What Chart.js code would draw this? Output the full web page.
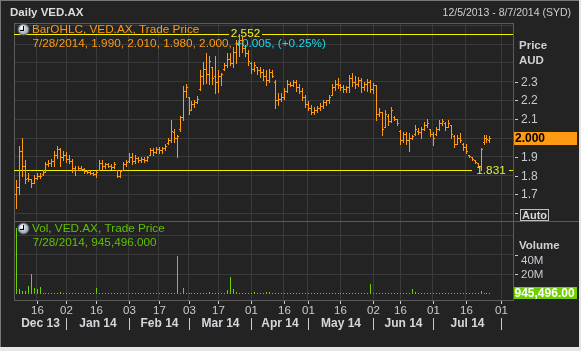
<!DOCTYPE html>
<html><head><meta charset="utf-8">
<script src="https://cdn.jsdelivr.net/npm/chart.js@4"></script>
<style>html,body{margin:0;padding:0;background:#232323;overflow:hidden}canvas{display:block}</style>
</head><body>
<canvas id="c" width="581" height="351"></canvas>
<script>
// ---- trading days (categories) ----
const dec13 = [5,6,9,10,11,12,13,16,17,18,19,20,23,24,27,30,31];
const jan14 = [2,3,6,7,8,9,10,13,14,15,16,17,20,21,22,23,24,28,29,30,31];
const feb14 = [3,4,5,6,7,10,11,12,13,14,17,18,19,20,21,24,25,26,27,28];
const mar14 = [3,4,5,6,7,10,11,12,13,14,17,18,19,20,21,24,25,26,27,28,31];
const apr14 = [1,2,3,4,7,8,9,10,11,14,15,16,17,22,23,24,28,29,30];
const may14 = [1,2,5,6,7,8,9,12,13,14,15,16,19,20,21,22,23,26,27,28,29,30];
const jun14 = [2,3,4,5,6,10,11,12,13,16,17,18,19,20,23,24,25,26,27,30];
const jul14 = [1,2,3,4,7,8,9,10,11,14,15,16,17,18,21,22,23,24,25,28,29,30,31];
const aug14 = [1,4,5,6,7];

// ---- OHLC series (AUD) ----
const opens = [1.70,1.74,1.93,1.85,1.79,1.78,1.76,1.79,1.80,1.81,1.82,1.86,1.87,1.88,1.91,1.94,1.90,1.91,1.89,1.88,
1.84,1.83,1.84,1.835,1.825,1.82,1.815,1.81,1.83,1.87,1.85,1.86,1.85,1.845,1.83,1.80,1.83,1.86,1.88,1.90,
1.88,1.895,1.885,1.89,1.885,1.91,1.935,1.925,1.94,1.935,1.945,1.975,1.99,2.03,2.00,2.05,2.11,2.25,2.22,2.15,
2.18,2.19,2.26,2.33,2.37,2.34,2.38,2.33,2.30,2.33,2.37,2.39,2.42,2.40,2.46,2.50,2.52,2.48,2.45,2.40,
2.37,2.38,2.36,2.35,2.33,2.31,2.35,2.30,2.20,2.21,2.22,2.25,2.29,2.28,2.30,2.27,2.25,2.22,2.18,2.16,
2.14,2.15,2.16,2.17,2.19,2.20,2.23,2.27,2.29,2.28,2.27,2.26,2.27,2.32,2.30,2.29,2.31,2.27,2.29,2.30,
2.26,2.28,2.13,2.14,2.06,2.12,2.09,2.11,2.10,2.04,1.99,2.02,1.99,2.00,2.02,2.04,2.03,2.05,2.07,2.05,
2.02,2.02,2.05,2.08,2.08,2.06,2.07,2.01,1.97,2.00,1.97,1.95,1.91,1.90,1.885,1.865,1.85,1.98,2.00,1.99];
const highs = [1.775,1.96,2.00,1.885,1.815,1.785,1.805,1.815,1.815,1.83,1.875,1.885,1.89,1.93,1.96,1.945,1.93,1.925,1.91,1.89,
1.85,1.85,1.85,1.84,1.83,1.83,1.82,1.825,1.885,1.885,1.87,1.865,1.86,1.875,1.83,1.83,1.875,1.885,1.92,1.92,
1.91,1.90,1.90,1.90,1.905,1.945,1.945,1.955,1.95,1.955,1.97,2.00,2.095,2.05,2.015,2.12,2.275,2.29,2.22,2.195,
2.20,2.225,2.36,2.405,2.45,2.435,2.38,2.435,2.36,2.345,2.40,2.45,2.45,2.485,2.52,2.552,2.54,2.495,2.47,2.405,
2.405,2.38,2.38,2.37,2.36,2.37,2.36,2.31,2.24,2.24,2.265,2.31,2.30,2.31,2.31,2.29,2.265,2.23,2.195,2.175,
2.165,2.17,2.185,2.205,2.205,2.23,2.29,2.31,2.32,2.29,2.285,2.275,2.335,2.345,2.33,2.325,2.32,2.30,2.315,2.31,
2.295,2.285,2.16,2.14,2.15,2.13,2.165,2.12,2.10,2.045,2.035,2.035,2.025,2.015,2.07,2.055,2.06,2.085,2.10,2.05,
2.035,2.06,2.095,2.10,2.085,2.095,2.07,2.015,2.015,2.025,1.975,1.97,1.91,1.90,1.885,1.865,1.945,2.015,2.015,2.01];
const lows = [1.63,1.70,1.80,1.76,1.77,1.74,1.76,1.785,1.79,1.805,1.82,1.85,1.85,1.85,1.895,1.85,1.885,1.875,1.865,1.82,
1.805,1.83,1.83,1.815,1.815,1.81,1.805,1.795,1.83,1.835,1.84,1.845,1.835,1.84,1.795,1.795,1.83,1.85,1.875,1.86,
1.865,1.875,1.875,1.875,1.88,1.91,1.91,1.92,1.92,1.92,1.935,1.97,1.98,1.98,1.90,2.04,2.095,2.22,2.13,2.15,
2.165,2.185,2.255,2.29,2.295,2.29,2.29,2.24,2.245,2.285,2.36,2.38,2.39,2.38,2.40,2.435,2.46,2.435,2.39,2.345,
2.355,2.34,2.325,2.31,2.285,2.30,2.325,2.16,2.175,2.195,2.21,2.245,2.275,2.275,2.25,2.24,2.20,2.165,2.15,2.13,
2.13,2.14,2.15,2.16,2.175,2.185,2.23,2.255,2.265,2.255,2.245,2.245,2.245,2.275,2.265,2.275,2.245,2.255,2.25,2.245,
2.24,2.095,2.115,2.015,2.06,2.07,2.085,2.095,2.07,1.97,1.98,1.97,1.93,1.995,2.015,2.02,2.00,2.045,2.06,2.01,
1.965,2.015,2.045,2.07,2.045,2.06,2.00,1.955,1.97,1.98,1.935,1.92,1.90,1.885,1.87,1.845,1.831,1.97,1.98,1.98];
const closes = [1.74,1.93,1.85,1.78,1.78,1.76,1.79,1.80,1.80,1.82,1.86,1.87,1.88,1.91,1.94,1.90,1.91,1.89,1.88,1.84,
1.83,1.84,1.835,1.825,1.82,1.815,1.81,1.82,1.87,1.85,1.86,1.85,1.845,1.86,1.80,1.825,1.86,1.875,1.90,1.88,
1.895,1.885,1.89,1.885,1.90,1.935,1.925,1.94,1.935,1.945,1.96,1.99,2.04,2.00,2.01,2.11,2.25,2.27,2.15,2.18,
2.19,2.21,2.33,2.37,2.34,2.41,2.32,2.30,2.33,2.34,2.39,2.42,2.40,2.46,2.50,2.52,2.48,2.45,2.41,2.37,
2.39,2.36,2.35,2.33,2.31,2.35,2.33,2.20,2.21,2.22,2.25,2.29,2.28,2.30,2.27,2.25,2.22,2.18,2.16,2.14,
2.15,2.16,2.17,2.19,2.20,2.22,2.27,2.29,2.28,2.27,2.26,2.27,2.32,2.30,2.29,2.31,2.27,2.29,2.30,2.26,
2.28,2.13,2.14,2.05,2.13,2.09,2.15,2.10,2.08,1.99,2.02,1.99,2.00,2.01,2.05,2.03,2.05,2.07,2.08,2.02,
2.00,2.05,2.08,2.09,2.06,2.08,2.02,1.97,2.00,1.99,1.95,1.93,1.905,1.89,1.875,1.85,1.94,2.00,1.995,2.00];
// ---- volume (millions) ----
const volumes = [67,5.4,3.4,2.7,8.2,20.4,6,4.8,7.1,1.4,0.3,0.2,0.2,1.2,0.3,2,0.3,1.2,0.3,1.2,
0.3,1.0,0.3,1.0,0.2,0.2,1.0,6,1.2,0.3,1.0,1.0,0.3,0.3,0.2,0.2,1.0,0.3,1.0,1.0,
1.0,0.2,0.2,0.3,0.3,1.0,0.2,0.2,0.2,0.3,1.0,0.3,1.0,0.5,39,1.0,6,1.0,0.3,0.3,
0.2,1.2,1.5,1.5,1.5,2.5,1.2,1.0,1.0,1.0,1.2,4.0,17,4.8,2.0,1.5,1.5,1.5,1.0,1.0,
2.0,1.0,1.2,1.0,2.5,2.5,1.5,1.2,0.5,0.5,0.5,0.3,0.3,0.5,0.2,0.5,0.3,0.3,0.3,0.3,
0.5,0.3,0.3,0.3,0.3,1.0,1.2,1.2,1.0,0.5,0.5,0.8,0.6,0.5,0.8,0.5,0.6,0.5,1.0,10,
1.0,0.5,0.5,1.0,1.5,0.5,1.5,0.5,0.5,0.5,0.5,1.0,1.5,4.8,2.0,0.5,0.5,0.5,0.5,0.3,
0.3,0.3,0.3,0.5,1.0,0.5,0.5,0.5,0.5,0.5,0.5,0.5,0.5,0.5,0.5,1.0,3.0,1.0,0.5,0.945];

// ---- axis labels ----
const dayTickDates = ['2013-12-16','2014-01-02','2014-01-16','2014-02-03','2014-02-17','2014-03-03','2014-03-17','2014-04-01',
  '2014-04-16','2014-05-01','2014-05-16','2014-06-02','2014-06-16','2014-07-01','2014-07-16','2014-08-01'];
const dayTickLabels = ['16','02','16','03','17','03','17','01','16','01','16','02','16','01','16','01'];
const monthLabels = ['Dec 13','Jan 14','Feb 14','Mar 14','Apr 14','May 14','Jun 14','Jul 14'];
const priceTicks = [1.6,1.7,1.8,1.9,2.0,2.1,2.2,2.3,2.4,2.5,2.6];
const priceLabels = ['1.7','1.8','1.9','2.1','2.2','2.3'];
const volTicks = [20,40,60];

const months = [['2013-12',dec13],['2014-01',jan14],['2014-02',feb14],['2014-03',mar14],['2014-04',apr14],
  ['2014-05',may14],['2014-06',jun14],['2014-07',jul14],['2014-08',aug14]];
const dates = [];
const monthStartIdx = [];
months.forEach(([m,ds])=>{ monthStartIdx.push(dates.length); ds.forEach(d=>dates.push(m+'-'+String(d).padStart(2,'0'))); });
const dayTickIdx = dayTickDates.map(d=>dates.indexOf(d));

const ORANGE = '#ff9a12', GREEN = '#6fd000', AXIS = '#c8ccd0', GRID = '#3a3a3a', FRAME = '#5c5c5c';
const FONT = '"Liberation Sans", Arial, sans-serif';

function clock(ctx, cx, cy){
  const g = ctx.createRadialGradient(cx-1.5, cy-2, 0.5, cx, cy, 6);
  g.addColorStop(0,'#ffffff'); g.addColorStop(1,'#8392a2');
  ctx.beginPath(); ctx.arc(cx, cy, 5.5, 0, Math.PI*2); ctx.fillStyle = g; ctx.fill();
  ctx.lineWidth = 1; ctx.strokeStyle = '#56606a'; ctx.stroke();
  ctx.fillStyle = '#000';
  ctx.fillRect(Math.round(cx)-1, Math.round(cy)-4, 1, 5);
  ctx.fillRect(Math.round(cx)-4, Math.round(cy), 4, 1);
}

const drawPlugin = {
  id: 'eikon',
  beforeDraw(chart){
    const ctx = chart.ctx;
    ctx.save();
    ctx.fillStyle = '#232323'; ctx.fillRect(0,0,581,351);
    ctx.restore();
  },
  afterDraw(chart){
    const ctx = chart.ctx, xs = chart.scales.x, ys = chart.scales.y, vs = chart.scales.y2;
    const a = chart.chartArea;
    const L = Math.round(a.left), R = Math.round(a.right), T = Math.round(a.top), B = Math.round(a.bottom);
    const sepY = 221;
    ctx.save();
    // panel frames
    ctx.fillStyle = FRAME;
    ctx.fillRect(L, T, R-L, 1);
    ctx.fillRect(L, T, 1, B-T);
    ctx.fillRect(R, T, 1, B-T+1);
    ctx.fillRect(L, B, R-L, 1);
    ctx.fillRect(L, sepY, 579-L, 1);
    // volume bars
    ctx.fillStyle = GREEN;
    const v0 = Math.round(vs.getPixelForValue(0));
    volumes.forEach((v,i)=>{
      const x = Math.round(xs.getPixelForValue(i));
      const yv = Math.round(vs.getPixelForValue(v));
      const h = Math.max(1, v0 - yv);
      ctx.fillRect(x, v0-h, 1, h);
    });
    // high / low markers
    const yHi = Math.round(ys.getPixelForValue(2.552));
    const yLo = Math.round(ys.getPixelForValue(1.831));
    ctx.fillStyle = '#f4f000';
    ctx.fillRect(L, yHi, 229-L, 1); ctx.fillRect(262, yHi, R-262, 1);
    ctx.fillRect(L, yLo, 472-L, 1); ctx.fillRect(509, yLo, R-509, 1);
    // OHLC bars
    ctx.fillStyle = ORANGE;
    highs.forEach((h,i)=>{
      const x = Math.round(xs.getPixelForValue(i));
      const yH = Math.round(ys.getPixelForValue(h));
      const yL = Math.round(ys.getPixelForValue(lows[i]));
      ctx.fillRect(x, yH, 1, Math.max(1, yL-yH+1));
      ctx.fillRect(x-1, Math.round(ys.getPixelForValue(opens[i])), 1, 1);
      ctx.fillRect(x+1, Math.round(ys.getPixelForValue(closes[i])), 1, 1);
    });
    // marker labels
    ctx.textBaseline = 'middle';
    ctx.font = '11.75px ' + FONT;
    ctx.fillStyle = '#f0f020'; ctx.textAlign = 'center';
    ctx.fillText('2.552', 245.5, yHi);
    ctx.fillStyle = '#dcf030';
    ctx.fillText('1.831', 491, yLo+1);
    // legends
    ctx.textAlign = 'left';
    clock(ctx, 23.5, 29.5);
    ctx.fillStyle = ORANGE;
    ctx.fillText('BarOHLC, VED.AX, Trade Price', 32, 30);
    const l2 = '7/' + '28/2014, ' + opens[159].toFixed(3) + ', ' + highs[159].toFixed(3) + ', ' + lows[159].toFixed(3) + ', ' + closes[159].toFixed(3) + ', ';
    ctx.fillText(l2, 32.5, 44);
    const w2 = ctx.measureText(l2).width;
    ctx.fillStyle = '#16d8f0';
    ctx.fillText('+0.005, (+0.25%)', 32.5 + w2, 44);
    clock(ctx, 23.5, 228.5);
    ctx.fillStyle = '#62c000';
    ctx.fillText('Vol, VED.AX, Trade Price', 32, 229);
    ctx.fillText('7/28/2014, 945,496.000', 32.5, 243);
    // title
    ctx.fillStyle = '#dcdcdc';
    ctx.font = 'bold 11.5px ' + FONT;
    ctx.fillText('Daily VED.AX', 10, 13);
    ctx.font = '10.5px ' + FONT; ctx.textAlign = 'right'; ctx.fillStyle = '#cfcfcf';
    ctx.fillText('12/5/2013 - 8/7/2014 (SYD)', 571, 13);
    // price axis
    ctx.textAlign = 'left';
    ctx.fillStyle = AXIS;
    priceTicks.forEach(v=>{
      if (v < 1.65 || v > 2.35 || Math.abs(v-2.0) < 1e-6) { if (Math.abs(v-1.6)>1e-6) return; }
      const y = Math.round(ys.getPixelForValue(v));
      ctx.fillRect(R+2, y, 3, 1);
    });
    ctx.font = '12px ' + FONT;
    priceLabels.forEach(s=>{
      ctx.fillText(s, 521, ys.getPixelForValue(parseFloat(s)) + 0.5);
    });
    ctx.font = 'bold 11.5px ' + FONT; ctx.fillStyle = '#d0d0d0';
    ctx.fillText('Price', 519, 46);
    ctx.fillText('AUD', 519, 61);
    // last price box
    const yLast = ys.getPixelForValue(closes[159]);
    ctx.fillStyle = ORANGE; ctx.fillRect(R+1, Math.round(yLast)-6, 577-R-1, 13);
    ctx.fillStyle = '#000'; ctx.font = 'bold 12px ' + FONT;
    ctx.fillText(closes[159].toFixed(3), 515, yLast+0.5);
    // Auto box
    ctx.strokeStyle = '#bfbfbf'; ctx.lineWidth = 1;
    ctx.strokeRect(520.5, 209.5, 28, 11);
    ctx.fillStyle = '#d8d8d8'; ctx.font = 'bold 11px ' + FONT;
    ctx.fillText('Auto', 522, 215.5);
    // volume axis
    ctx.fillStyle = AXIS;
    volTicks.slice(0,2).forEach(v=>{
      ctx.fillRect(R+2, Math.round(vs.getPixelForValue(v)), 3, 1);
    });
    ctx.font = 'bold 11.5px ' + FONT; ctx.fillStyle = '#d0d0d0';
    ctx.fillText('Volume', 519, 246);
    ctx.font = '11.5px ' + FONT; ctx.fillStyle = AXIS;
    ctx.fillText('40M', 521, vs.getPixelForValue(40) + 6.5);
    ctx.fillText('20M', 521, vs.getPixelForValue(20) + 0.5);
    const yVol = vs.getPixelForValue(volumes[159]);
    ctx.fillStyle = GREEN; ctx.fillRect(R+1, Math.round(yVol)-6, 577-R-1, 12);
    ctx.fillStyle = '#ffffff'; ctx.font = 'bold 12px ' + FONT;
    ctx.fillText('945,496.00', 514.5, yVol+0.5);
    // x axis
    ctx.fillStyle = AXIS; ctx.textAlign = 'center';
    ctx.font = '11.5px ' + FONT;
    dayTickIdx.forEach((idx,k)=>{
      const x = Math.round(xs.getPixelForValue(idx));
      ctx.fillRect(x, B+1, 1, 3);
      ctx.fillText(dayTickLabels[k], x+0.5, 311);
    });
    const seps = monthStartIdx.slice(1).map(i=>Math.round(xs.getPixelForValue(i)));
    seps.forEach(x=>ctx.fillRect(x, 318, 1, 12));
    ctx.font = 'bold 12px ' + FONT; ctx.fillStyle = '#d4d8dc';
    monthLabels.forEach((m,k)=>{
      const x0 = k===0 ? L : seps[k-1];
      const x1 = seps[k];
      ctx.fillText(m, (x0+x1)/2 + 0.5, 324);
    });
    // window frame
    ctx.fillStyle = '#777'; ctx.fillRect(0,0,581,1); ctx.fillRect(0,0,1,351);
    ctx.fillStyle = '#e6e6e6'; ctx.fillRect(0,347,581,4); ctx.fillRect(579,0,2,351);
    ctx.restore();
  }
};

const pMin = 1.8 - (300-175.7)/188, pMax = 2.3 + (81.7-22.7)/188;
const vMin = -(300-294)/19.6*20, vMax = (294-22.7)/19.6*20;

new Chart(document.getElementById('c').getContext('2d'), {
  type: 'bar',
  data: { datasets: [
    { label: 'BarOHLC, VED.AX, Trade Price', data: highs.map((h,i)=>({x:i, y:[lows[i], h]})), yAxisID: 'y',
      backgroundColor: 'rgba(0,0,0,0)', borderWidth: 0 },
    { label: 'Vol, VED.AX, Trade Price', data: volumes.map((v,i)=>({x:i, y:v})), yAxisID: 'y2',
      backgroundColor: 'rgba(0,0,0,0)', borderWidth: 0 }
  ]},
  options: {
    responsive: false, animation: false, events: [],
    layout: { padding: { left: 14, right: 67.7, top: 22.7, bottom: 51 } },
    plugins: { legend: { display: false }, tooltip: { enabled: false } },
    scales: {
      x: { type: 'linear', offset: false, min: -0.57, max: 167, afterFit(s){ s.height = 0; },
           afterBuildTicks(s){ s.ticks = dayTickIdx.map(v=>({value:v})); },
           ticks: { display: false }, grid: { color: GRID, drawTicks: false, offset: false }, border: { display: false } },
      y: { type: 'linear', position: 'right', min: pMin, max: pMax, afterFit(s){ s.width = 0; },
           afterBuildTicks(s){ s.ticks = priceTicks.map(v=>({value:v})); },
           ticks: { display: false }, grid: { color: GRID, drawTicks: false }, border: { display: false } },
      y2: { type: 'linear', position: 'right', min: vMin, max: vMax, afterFit(s){ s.width = 0; },
           afterBuildTicks(s){ s.ticks = volTicks.map(v=>({value:v})); },
           ticks: { display: false }, grid: { color: GRID, drawTicks: false }, border: { display: false } }
    }
  },
  plugins: [drawPlugin]
});
</script>
</body></html>
